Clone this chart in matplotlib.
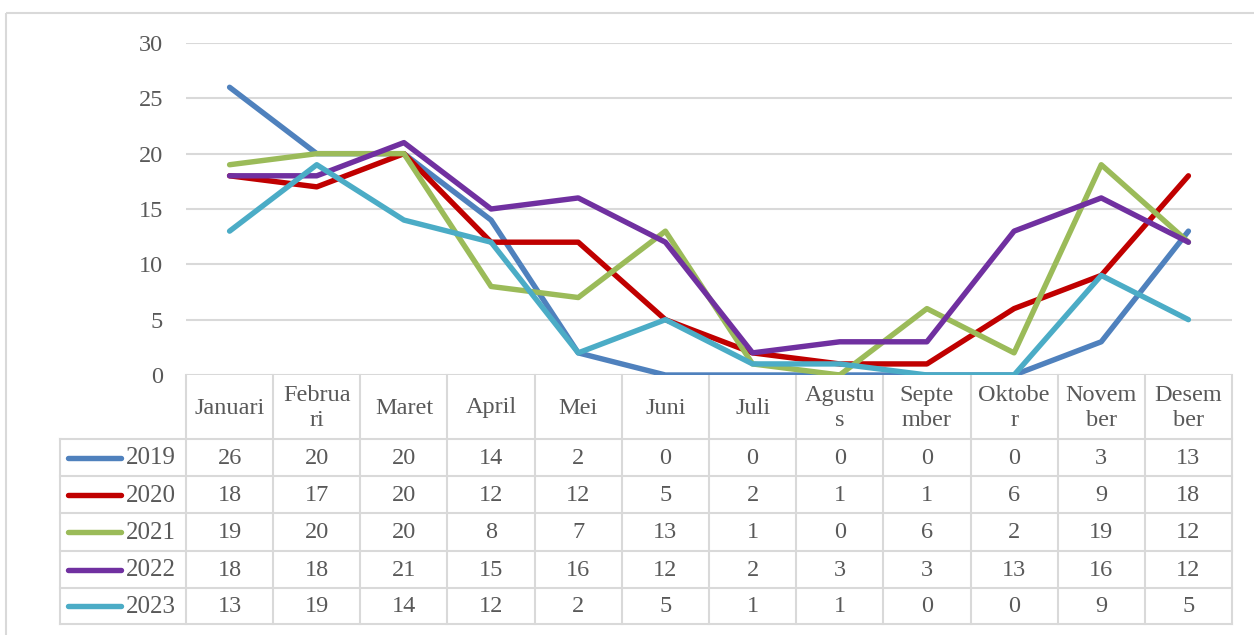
import matplotlib
matplotlib.use("Agg")
import matplotlib.pyplot as plt
from matplotlib.transforms import blended_transform_factory
from matplotlib.patches import Rectangle

months = ["Januari", "Februari", "Maret", "April", "Mei", "Juni", "Juli",
          "Agustus", "September", "Oktober", "November", "Desember"]
month_labels = ["Januari", "Februa\nri", "Maret", "April", "Mei", "Juni", "Juli",
                "Agustu\ns", "Septe\nmber", "Oktobe\nr", "Novem\nber", "Desem\nber"]
years = ["2019", "2020", "2021", "2022", "2023"]
v2019 = [26, 20, 20, 14, 2, 0, 0, 0, 0, 0, 3, 13]
v2020 = [18, 17, 20, 12, 12, 5, 2, 1, 1, 6, 9, 18]
v2021 = [19, 20, 20, 8, 7, 13, 1, 0, 6, 2, 19, 12]
v2022 = [18, 18, 21, 15, 16, 12, 2, 3, 3, 13, 16, 12]
v2023 = [13, 19, 14, 12, 2, 5, 1, 1, 0, 0, 9, 5]
series = [v2019, v2020, v2021, v2022, v2023]
colors = ["#4F81BD", "#C00000", "#9BBB59", "#7030A0", "#4BACC6"]
yticks = [0, 5, 10, 15, 20, 25, 30]

W, H = 1254, 635
plt.rcParams['font.family'] = ['Liberation Serif', 'DejaVu Serif']
txt_color = "#595959"
grid_color = "#D9D9D9"
fs = 17.5

fig = plt.figure(figsize=(W / 100, H / 100), dpi=100)
fig.patch.set_facecolor("white")

# overlay axes in pixel coordinates
ov = fig.add_axes([0, 0, 1, 1], zorder=0)
ov.set_xlim(0, W)
ov.set_ylim(H, 0)
ov.axis("off")
ov.add_patch(Rectangle((6, 13), W + 20, H + 20, fill=False, edgecolor=grid_color, lw=1.5))

left, right, top, bottom = 186, 1232, 43, 375
ax = fig.add_axes([left / W, 1 - bottom / H, (right - left) / W, (bottom - top) / H], zorder=1)
ax.patch.set_alpha(0)
x = list(range(len(months)))
for vals, c, yr in zip(series, colors, years):
    ax.plot(x, vals, color=c, lw=3.9, solid_capstyle="round", solid_joinstyle="round", label=yr)
ax.set_xlim(-0.5, len(months) - 0.5)
ax.set_ylim(0, 30)
ax.set_yticks(yticks)
ax.set_yticklabels([str(t) for t in yticks], color=txt_color, fontsize=fs)
ax.tick_params(axis="y", length=0, pad=16.5)
ax.set_xticks([])
for s in ax.spines.values():
    s.set_visible(False)
ax.yaxis.grid(True, color=grid_color, lw=1.5)
ax.set_axisbelow(True)

# table
tr = blended_transform_factory(ax.transData, ov.transData)
row_edges = [439, 476, 513, 551, 588, 624]
tab_left = 60
for k in range(len(months) + 1):
    ov.plot([k - 0.5, k - 0.5], [bottom, row_edges[-1]], color=grid_color, lw=1.5,
            transform=tr, clip_on=False)
ov.plot([tab_left, tab_left], [row_edges[0], row_edges[-1]], color=grid_color, lw=1.5)
for ye in row_edges:
    ov.plot([tab_left, right], [ye, ye], color=grid_color, lw=1.5)

for i, lab in enumerate(month_labels):
    ov.text(i, (bottom + row_edges[0]) / 2 + 1, lab, transform=tr, ha="center", va="center",
            fontsize=fs, color=txt_color, linespacing=1.25)

for r, (vals, c, yr) in enumerate(zip(series, colors, years)):
    yc = (row_edges[r] + row_edges[r + 1]) / 2
    ov.plot([68, 121], [yc, yc], color=c, lw=3.9, solid_capstyle="round")
    ov.text(126, yc + 1, yr, ha="left", va="center", fontsize=fs + 0.5, color=txt_color)
    for i, v in enumerate(vals):
        ov.text(i, yc + 1, str(v), transform=tr, ha="center", va="center",
                fontsize=fs, color=txt_color)

fig.savefig("out.png", dpi=100, facecolor="white")
